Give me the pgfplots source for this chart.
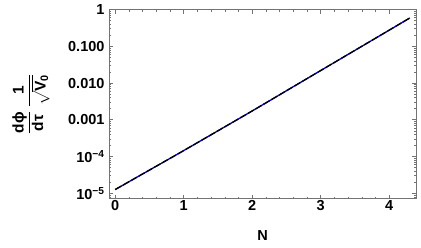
\documentclass[border=0pt]{standalone}
\usepackage{amsmath}
\usepackage{fontspec}
\setmainfont{Liberation Sans}
\usepackage{pgfplots}
\pgfplotsset{compat=1.18}
\definecolor{framegray}{gray}{0.45}
\begin{document}
\begin{tikzpicture}
\begin{axis}[
  at={(0,0)}, anchor=south west,
  scale only axis, width=307pt, height=189pt,
  xmin=-0.09, xmax=4.39,
  ymode=log, ymin=7.2e-6, ymax=1,
  xtick={0,1,2,3,4}, minor x tick num=4,
  ytick={1,0.1,0.01,0.001,1e-4,1e-5},
  yticklabels={1,0.100,0.010,0.001,{10\textsuperscript{−4}},{10\textsuperscript{−5}}},
  minor ytick={8e-6,9e-6,2e-5,3e-5,4e-5,5e-5,6e-5,7e-5,8e-5,9e-5,2e-4,3e-4,4e-4,5e-4,6e-4,7e-4,8e-4,9e-4,2e-3,3e-3,4e-3,5e-3,6e-3,7e-3,8e-3,9e-3,2e-2,3e-2,4e-2,5e-2,6e-2,7e-2,8e-2,9e-2,0.2,0.3,0.4,0.5,0.6,0.7,0.8,0.9},
  /pgf/number format/assume math mode=true,
  tick label style={font=\fontsize{14.5}{16}\selectfont\bfseries},
  label style={font=\fontsize{14.5}{16}\selectfont\bfseries},
  axis line style={framegray, line width=0.8pt},
  tick style={framegray, line width=0.6pt},
  major tick length=4pt, minor tick length=2pt,
  tick align=inside,
  xticklabel style={yshift=2pt},
  yticklabel style={xshift=-1pt},
  xlabel={N},
  xlabel style={at={(axis description cs:0.5,-0.198)}, anchor=center},
  ylabel={$\displaystyle\frac{\text{dϕ}}{\text{dτ}}\;\frac{\text{1}}{\sqrt{\text{V}_{\text{0}}}}$},
  ylabel style={at={(axis description cs:-0.254,0.5)}, anchor=center, font=\fontsize{15.5}{17}\selectfont\bfseries},
]
\addplot[blue!85!black, line width=1.3pt, smooth] coordinates {
(0,1.26e-5) (0.5,4.27e-5) (1,1.45e-4) (1.5,5.01e-4) (2,1.74e-3) (2.5,6.17e-3) (3,0.0219) (3.5,0.0776) (4,0.275) (4.3,0.589)};
\addplot[black, line width=1.3pt, smooth, dash pattern=on 7pt off 2pt] coordinates {
(0,1.26e-5) (0.5,4.27e-5) (1,1.45e-4) (1.5,5.01e-4) (2,1.74e-3) (2.5,6.17e-3) (3,0.0219) (3.5,0.0776) (4,0.275) (4.3,0.589)};
\end{axis}
\pgfresetboundingbox
\path[use as bounding box] (-109pt,-48.5pt) rectangle (312pt,198.5pt);
\end{tikzpicture}
\end{document}
